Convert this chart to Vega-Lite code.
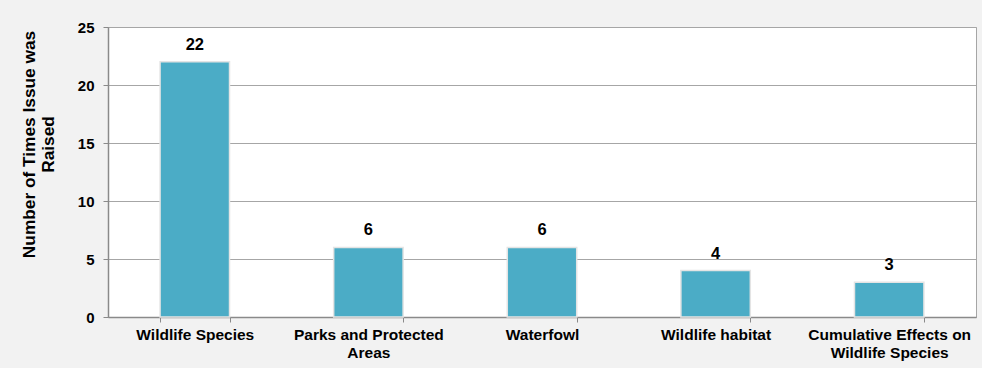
{
  "$schema": "https://vega.github.io/schema/vega-lite/v6.json",
  "width": 868,
  "height": 290,
  "autosize": {"type": "none"},
  "padding": {"left": 108, "top": 27, "right": 6, "bottom": 51},
  "background": "#f2f2f2",
  "data": {
    "values": [
      {"issue": "Wildlife Species", "count": 22},
      {"issue": "Parks and Protected Areas", "count": 6},
      {"issue": "Waterfowl", "count": 6},
      {"issue": "Wildlife habitat", "count": 4},
      {"issue": "Cumulative Effects on Wildlife Species", "count": 3}
    ]
  },
  "encoding": {
    "x": {
      "field": "issue",
      "type": "nominal",
      "sort": null,
      "scale": {"paddingInner": 0.6, "paddingOuter": 0.3},
      "axis": {
        "title": null,
        "labelAngle": 0,
        "tickBand": "extent",
        "labelExpr": "datum.value == 'Parks and Protected Areas' ? ['Parks and Protected', 'Areas'] : datum.value == 'Cumulative Effects on Wildlife Species' ? ['Cumulative Effects on', 'Wildlife Species'] : datum.value",
        "labelFont": "Liberation Sans",
        "labelFontWeight": "bold",
        "labelFontSize": 15.5,
        "labelColor": "#000000",
        "labelLineHeight": 18,
        "labelPadding": 5,
        "labelBaseline": "top",
        "tickSize": 5,
        "tickColor": "#8a8a8a",
        "domainColor": "#8a8a8a",
        "domainWidth": 1.5,
        "grid": false
      }
    },
    "y": {
      "field": "count",
      "type": "quantitative",
      "scale": {"domain": [0, 25]},
      "axis": {
        "title": ["Number of Times Issue was", "Raised"],
        "values": [0, 5, 10, 15, 20, 25],
        "labelFont": "Liberation Sans",
        "labelFontWeight": "bold",
        "labelFontSize": 15,
        "labelColor": "#000000",
        "labelPadding": 9,
        "tickSize": 5,
        "tickColor": "#8a8a8a",
        "domainColor": "#8a8a8a",
        "domainWidth": 1.5,
        "gridColor": "#a6a6a6",
        "gridWidth": 1,
        "titleFont": "Liberation Sans",
        "titleFontWeight": "bold",
        "titleFontSize": 17.3,
        "titleColor": "#000000",
        "titleLineHeight": 19,
        "titleAngle": 270,
        "titleAlign": "center",
        "titleBaseline": "middle",
        "titleX": -79,
        "titleY": 117
      }
    }
  },
  "layer": [
    {
      "mark": {"type": "bar", "color": "#4bacc6", "stroke": "#e4e4e4", "strokeWidth": 1.5}
    },
    {
      "mark": {
        "type": "text",
        "font": "Liberation Sans",
        "fontWeight": "bold",
        "fontSize": 16.5,
        "color": "#000000",
        "baseline": "alphabetic",
        "dy": -12
      },
      "encoding": {"text": {"field": "count", "type": "quantitative"}}
    }
  ],
  "config": {
    "view": {"fill": "#ffffff", "stroke": "#a6a6a6", "strokeWidth": 1}
  }
}
